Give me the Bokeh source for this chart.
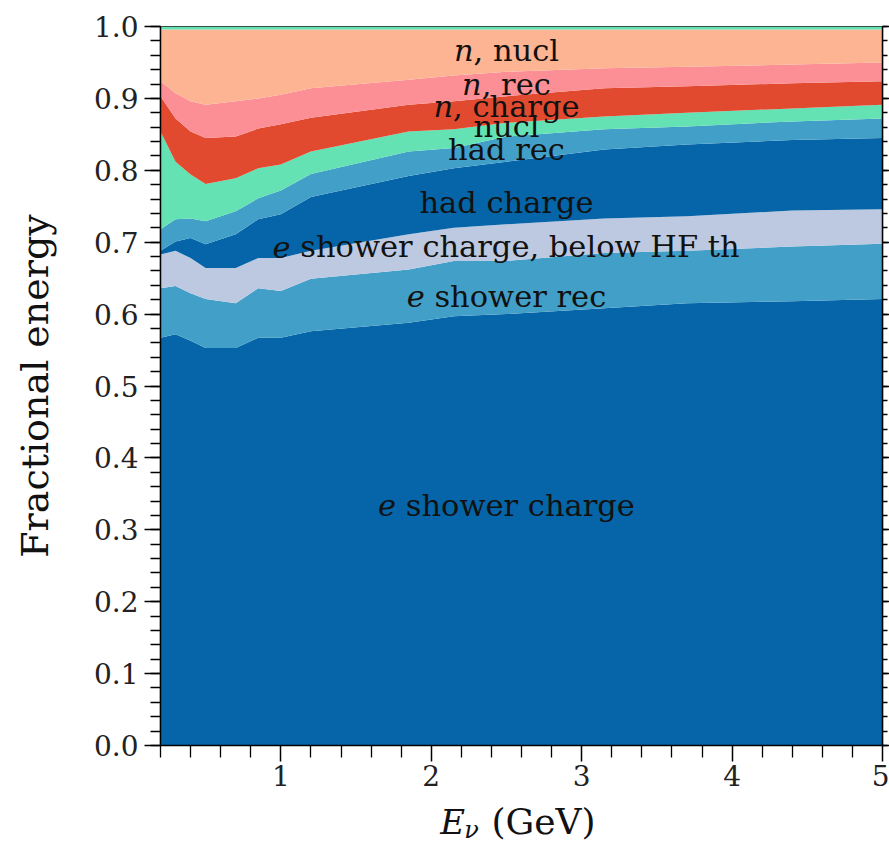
from bokeh.plotting import figure
from bokeh.layouts import column
from bokeh.models import Range1d, FixedTicker, LinearAxis, Label, NumeralTickFormatter
from bokeh.core.properties import value
from bokeh.embed import file_html
from bokeh.resources import INLINE

# ---------------- data (cumulative upper edge of each layer) ----------------
E = [0.2, 0.3, 0.4, 0.5, 0.7, 0.85, 1.0, 1.2, 1.85, 2.15, 2.5, 3.15, 3.7, 4.4, 5.0]

e_shower_charge_top = [0.567, 0.572, 0.563, 0.553, 0.553, 0.567, 0.567, 0.576, 0.588, 0.597, 0.600, 0.608, 0.615, 0.618, 0.621]
e_shower_rec_top = [0.636, 0.639, 0.629, 0.621, 0.615, 0.636, 0.632, 0.649, 0.662, 0.674, 0.674, 0.685, 0.688, 0.694, 0.698]
e_shower_hf_top = [0.683, 0.688, 0.678, 0.664, 0.664, 0.678, 0.678, 0.688, 0.711, 0.720, 0.725, 0.733, 0.736, 0.744, 0.746]
had_charge_top = [0.688, 0.701, 0.706, 0.697, 0.711, 0.732, 0.739, 0.763, 0.792, 0.803, 0.812, 0.829, 0.836, 0.842, 0.845]
had_rec_top = [0.718, 0.732, 0.733, 0.729, 0.743, 0.761, 0.772, 0.795, 0.826, 0.831, 0.847, 0.857, 0.861, 0.868, 0.872]
had_nucl_top = [0.854, 0.812, 0.794, 0.781, 0.789, 0.803, 0.808, 0.826, 0.854, 0.857, 0.866, 0.875, 0.880, 0.886, 0.891]
n_charge_top = [0.903, 0.872, 0.854, 0.845, 0.847, 0.858, 0.864, 0.873, 0.891, 0.896, 0.903, 0.914, 0.917, 0.921, 0.924]
n_rec_top = [0.924, 0.907, 0.896, 0.891, 0.896, 0.900, 0.905, 0.914, 0.926, 0.932, 0.937, 0.942, 0.944, 0.947, 0.950]
n_nucl_top = [0.996, 0.996, 0.996, 0.996, 0.996, 0.996, 0.996, 0.996, 0.996, 0.996, 0.996, 0.996, 0.996, 0.996, 0.996]
other_top = [1.0, 1.0, 1.0, 1.0, 1.0, 1.0, 1.0, 1.0, 1.0, 1.0, 1.0, 1.0, 1.0, 1.0, 1.0]

x_major = [1, 2, 3, 4, 5]
x_minor = [0.2, 0.4, 0.6, 0.8, 1.2, 1.4, 1.6, 1.8, 2.2, 2.4, 2.6, 2.8, 3.2, 3.4, 3.6, 3.8,
           4.2, 4.4, 4.6, 4.8]
y_major = [0.0, 0.1, 0.2, 0.3, 0.4, 0.5, 0.6, 0.7, 0.8, 0.9, 1.0]
y_minor = [round(0.02 * i, 2) for i in range(51)]

# (italic prefix, rest, y of baseline)
labels = [
    ("n", ", nucl", 0.966),
    ("n", ", rec", 0.920),
    ("n", ", charge", 0.889),
    ("", "nucl", 0.861),
    ("", "had rec", 0.829),
    ("", "had charge", 0.755),
    ("e", " shower charge, below HF th", 0.694),
    ("e", " shower rec", 0.625),
    ("e", " shower charge", 0.334),
]
label_x = 2.5

DARK = "#0565A8"
MID = "#42A0C8"
layers = [
    (None, e_shower_charge_top, DARK),
    (e_shower_charge_top, e_shower_rec_top, MID),
    (e_shower_rec_top, e_shower_hf_top, "#BDC9E1"),
    (e_shower_hf_top, had_charge_top, DARK),
    (had_charge_top, had_rec_top, MID),
    (had_rec_top, had_nucl_top, "#64E2B4"),
    (had_nucl_top, n_charge_top, "#E24A30"),
    (n_charge_top, n_rec_top, "#FC8F96"),
    (n_rec_top, n_nucl_top, "#FDB492"),
    (n_nucl_top, other_top, "#64E2B4"),
]

FONT = "DejaVu Serif"
TXT = "#111111"
p = figure(frame_width=722, frame_height=719,
           x_range=Range1d(0.2, 5.0), y_range=Range1d(0.0, 1.0),
           output_backend="svg", toolbar_location=None,
           min_border_left=160, min_border_top=26, min_border_bottom=46,
           min_border_right=7, background_fill_color="white",
           border_fill_color="white")
p.grid.visible = False
p.outline_line_color = "#222222"
p.outline_line_width = 1.2

for lo, hi, col in layers:
    p.varea(x=E, y1=(lo if lo is not None else 0.0), y2=hi,
            fill_color=col, fill_alpha=1.0)

def style_axis(ax, major_out, minor_out):
    ax.axis_line_color = "black"
    ax.axis_line_width = 1.5
    ax.major_tick_line_color = "black"
    ax.major_tick_line_width = 1.5
    ax.minor_tick_line_color = "black"
    ax.minor_tick_line_width = 1.3
    ax.major_tick_in = 0
    ax.minor_tick_in = 0
    ax.major_tick_out = major_out
    ax.minor_tick_out = minor_out
    ax.major_label_text_font = FONT
    ax.major_label_text_font_size = "28px"
    ax.major_label_text_color = "#222222"
    ax.axis_label_text_font = FONT
    ax.axis_label_text_font_style = "normal"
    ax.axis_label_text_font_size = "38px"
    ax.axis_label_text_color = TXT

xax = p.xaxis[0]
xax.ticker = FixedTicker(ticks=x_major, minor_ticks=x_minor)
style_axis(xax, 16, 12)
xax.major_label_standoff = 3
xax.axis_label = None

yax = p.yaxis[0]
yax.ticker = FixedTicker(ticks=y_major, minor_ticks=y_minor)
yax.formatter = NumeralTickFormatter(format="0.0")
style_axis(yax, 16, 10)
yax.major_label_standoff = 6
yax.axis_label = "Fractional energy"
yax.axis_label_standoff = 34

rax = LinearAxis(ticker=FixedTicker(ticks=y_major, minor_ticks=y_minor))
style_axis(rax, 7, 5)
rax.major_label_overrides = {t: "" for t in y_major}
rax.major_label_standoff = 0
p.add_layout(rax, "right")

# text widths (em) for DejaVu Serif, used to centre mixed-style labels
W = {' ': .318, ',': .318, 'a': .596, 'b': .640, 'c': .560, 'd': .640, 'e': .592,
     'g': .640, 'h': .644, 'l': .320, 'n': .644, 'o': .602, 'r': .478, 's': .513,
     't': .402, 'u': .644, 'w': .856, 'H': .872, 'F': .716}
S = 30.5

def tw(s):
    return sum(W.get(c, .6) for c in s) * S

for it, rest, yy in labels:
    if it:
        gap = tw(" ") if rest.startswith(" ") else 0.0
        body = rest.strip()
        total = tw(it) + gap + tw(body)
        off_i = -total / 2.0 + tw(it)
        p.add_layout(Label(x=label_x, y=yy, text=it, x_offset=off_i, text_align="right",
                           text_baseline="alphabetic", text_font=FONT,
                           text_font_style="italic", text_font_size=f"{S}px",
                           text_color=TXT))
        p.add_layout(Label(x=label_x, y=yy, text=body, x_offset=off_i + gap, text_align="left",
                           text_baseline="alphabetic", text_font=FONT,
                           text_font_size=f"{S}px", text_color=TXT))
    else:
        p.add_layout(Label(x=label_x, y=yy, text=rest, text_align="center",
                           text_baseline="alphabetic", text_font=FONT,
                           text_font_size=f"{S}px", text_color=TXT))

# ---------------- x-axis title strip: E_nu (GeV) ----------------
q = figure(frame_width=722, frame_height=60,
           x_range=p.x_range, y_range=Range1d(0.0, 1.0),
           output_backend="svg", toolbar_location=None,
           min_border_left=160, min_border_right=7, min_border_top=0, min_border_bottom=0,
           background_fill_color="white", border_fill_color="white")
q.axis.visible = False
q.grid.visible = False
q.outline_line_color = None

q.text(x=[2.06], y=[0.50], text=["E"], text_align="left", text_baseline="alphabetic",
       text_font=value(FONT), text_font_style="italic", text_font_size="34px", text_color=TXT)
q.text(x=[2.22], y=[0.36], text=["ν"], text_align="left", text_baseline="alphabetic",
       text_font=value(FONT), text_font_style="italic", text_font_size="24px", text_color=TXT)
q.text(x=[2.40], y=[0.50], text=["(GeV)"], text_align="left", text_baseline="alphabetic",
       text_font=value(FONT), text_font_size="36px", text_color=TXT)

layout = column(p, q, spacing=0)
open("out.html", "w").write(file_html(layout, INLINE))
